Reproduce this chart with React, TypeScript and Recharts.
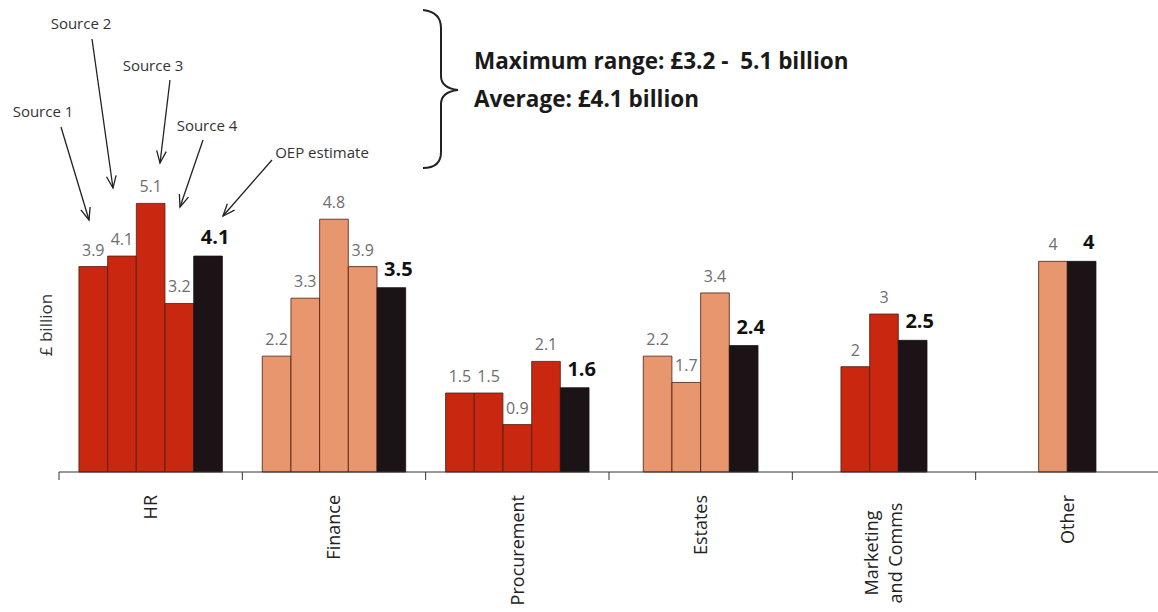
import { BarChart, Bar, XAxis, YAxis, Cell, LabelList } from 'recharts'

// categories and values
const categories = ['HR', 'Finance', 'Procurement', 'Estates', 'Marketing and Comms', 'Other']
const sourceValues = [
    [3.9, 4.1, 5.1, 3.2],
    [2.2, 3.3, 4.8, 3.9],
    [1.5, 1.5, 0.9, 2.1],
    [2.2, 1.7, 3.4],
    [2, 3],
    [4],
]
const oepValues = [4.1, 3.5, 1.6, 2.4, 2.5, 4]
const categoryShade = ['red', 'salmon', 'red', 'salmon', 'red', 'salmon']
const sourceNames = ['Source 1', 'Source 2', 'Source 3', 'Source 4']
const rangeText = 'Maximum range: £3.2 -  5.1 billion'
const averageText = 'Average: £4.1 billion'

const colours: Record<string, string> = {
    red: '#C9270F',
    salmon: '#E8966E',
    oep: '#1B1315',
}

const CHART_W = 1170
const CHART_H = 612
const MARGIN = { top: 156, right: 11, left: 59, bottom: 0 }
const GROUP_PX = (CHART_W - MARGIN.left - MARGIN.right) / categories.length
const BAR_PX = 28.7
const SLOT = BAR_PX / GROUP_PX
const FONT = '"Open Sans", "Noto Sans", sans-serif'

// one row per bar, bars packed and centred inside their category
const barData = categories.flatMap((category, g) => {
    const values = [...sourceValues[g], oepValues[g]]
    const n = values.length
    return values.map((value, i) => ({
        category,
        x: g + 0.5 + (i - (n - 1) / 2) * SLOT,
        value,
        oep: i === n - 1,
        shade: categoryShade[g],
    }))
})

const axisTicks = categories.flatMap((_, g) => [g, g + 0.5]).concat(categories.length)

const CategoryTick = ({ x, y, payload }: any) => {
    const v = payload.value as number
    if (Number.isInteger(v)) {
        return <line x1={x} x2={x} y1={y - 8} y2={y} stroke="#333" strokeWidth={1} />
    }
    const name = categories[Math.floor(v)]
    if (name === 'Marketing and Comms') {
        return (
            <g transform={`translate(${x},${y + 73}) rotate(-90)`}>
                <text textAnchor="middle" y={-12} dy="0.35em" fontSize={18} fill="#222" fontFamily={FONT}>
                    Marketing
                </text>
                <text textAnchor="middle" y={12} dy="0.35em" fontSize={18} fill="#222" fontFamily={FONT}>
                    and Comms
                </text>
            </g>
        )
    }
    return (
        <text
            transform={`translate(${x},${y + 15}) rotate(-90)`}
            textAnchor="end"
            dy="0.35em"
            fontSize={18}
            fill="#222"
            fontFamily={FONT}
        >
            {name}
        </text>
    )
}

const renderValueLabel = (props: any) => {
    const { x, y, width, value, index } = props
    const row = barData[index]
    if (!row) return null
    if (row.oep) {
        return (
            <text x={x + width / 2 + 7} y={y - 12} textAnchor="middle" fontSize={20} fontWeight={700} fill="#111" fontFamily={FONT}>
                {value}
            </text>
        )
    }
    return (
        <text x={x + width / 2} y={y - 11} textAnchor="middle" fontSize={16} fill="#6e6e6e" fontFamily={FONT}>
            {value}
        </text>
    )
}

const Arrow = ({ x1, y1, x2, y2 }: { x1: number; y1: number; x2: number; y2: number }) => {
    const a = Math.atan2(y2 - y1, x2 - x1)
    const len = 13
    const spread = 0.38
    const h1 = [x2 - len * Math.cos(a - spread), y2 - len * Math.sin(a - spread)]
    const h2 = [x2 - len * Math.cos(a + spread), y2 - len * Math.sin(a + spread)]
    return (
        <g stroke="#222" strokeWidth={1.3} fill="none">
            <line x1={x1} y1={y1} x2={x2} y2={y2} />
            <polyline points={`${h1[0]},${h1[1]} ${x2},${y2} ${h2[0]},${h2[1]}`} />
        </g>
    )
}

// pointers from each source name to the HR bars
const pointers = [
    { text: sourceNames[0], tx: 43, ty: 112, x1: 61, y1: 127, x2: 89, y2: 220 },
    { text: sourceNames[1], tx: 81, ty: 24, x1: 92, y1: 39, x2: 113, y2: 188 },
    { text: sourceNames[2], tx: 153, ty: 66, x1: 170, y1: 80, x2: 160, y2: 163 },
    { text: sourceNames[3], tx: 207, ty: 126, x1: 203, y1: 140, x2: 180, y2: 207 },
    { text: 'OEP estimate', tx: 322, ty: 153, x1: 272, y1: 160, x2: 223, y2: 216 },
]

const Annotations = () => (
    <svg
        width={1158}
        height={612}
        style={{ position: 'absolute', left: 0, top: 0, pointerEvents: 'none' }}
        fontFamily={FONT}
    >
        {pointers.map((p) => (
            <g key={p.text}>
                <text x={p.tx} y={p.ty} dy="0.35em" textAnchor="middle" fontSize={15} fill="#333">
                    {p.text}
                </text>
                <Arrow x1={p.x1} y1={p.y1} x2={p.x2} y2={p.y2} />
            </g>
        ))}
        <path
            d="M423,10 Q441,12 441,28 L441,76 Q441,88 458,90 Q441,92 441,104 L441,152 Q441,168 423,168"
            stroke="#222"
            strokeWidth={2}
            fill="none"
        />
        <text x={474} y={69} fontSize={22.5} fontWeight={700} fill="#1a1a1a" style={{ whiteSpace: 'pre' }}>
            {rangeText}
        </text>
        <text x={474} y={107} fontSize={22.5} fontWeight={700} fill="#1a1a1a">
            {averageText}
        </text>
        <text
            transform="translate(46,325) rotate(-90)"
            textAnchor="middle"
            dy="0.35em"
            fontSize={17}
            fill="#333"
        >
            £ billion
        </text>
    </svg>
)

const App = () => {
    return (
        <div
            style={{
                position: 'absolute',
                left: 0,
                top: 0,
                width: 1158,
                height: 612,
                overflow: 'hidden',
                background: '#fff',
                fontFamily: FONT,
            }}
        >
            <BarChart
                width={CHART_W}
                height={CHART_H}
                data={barData}
                margin={MARGIN}
                barCategoryGap={0}
                barGap={0}
            >
                <XAxis
                    dataKey="x"
                    type="number"
                    domain={[0, categories.length]}
                    ticks={axisTicks}
                    interval={0}
                    tickLine={false}
                    axisLine={{ stroke: '#333' }}
                    tick={<CategoryTick />}
                    height={140}
                    allowDataOverflow
                />
                <YAxis hide type="number" domain={[0, 6]} />
                {/* a hair under the slot width, else recharts shrinks the bars to 90% */}
                <Bar dataKey="value" barSize={BAR_PX - 0.05} isAnimationActive={false}>
                    {barData.map((d, i) => (
                        <Cell
                            key={i}
                            fill={d.oep ? colours.oep : colours[d.shade]}
                            stroke={d.oep ? colours.oep : '#4a1e14'}
                            strokeWidth={0.8}
                        />
                    ))}
                    <LabelList dataKey="value" content={renderValueLabel} />
                </Bar>
            </BarChart>
            <Annotations />
        </div>
    )
}

export default App
